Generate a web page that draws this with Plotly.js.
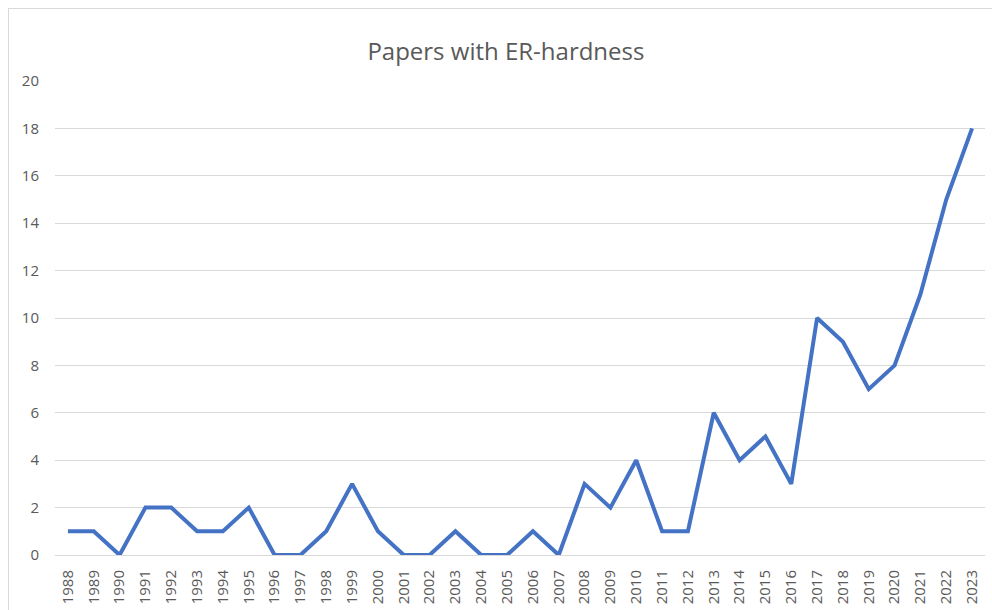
<!DOCTYPE html>
<html>
<head>
<meta charset="utf-8">
<script src="https://cdn.plot.ly/plotly-3.0.1.min.js"></script>
<style>
html,body{margin:0;padding:0;background:#fff;}
#wrap{position:relative;width:992px;height:610px;}
#chart{width:992px;height:610px;}
#frame{position:absolute;left:8px;top:8px;width:990px;height:620px;border:1px solid #d9d9d9;pointer-events:none;}
</style>
</head>
<body>
<div id="wrap"><div id="chart"></div><div id="frame"></div></div>
<script>
const years = ["1988","1989","1990","1991","1992","1993","1994","1995","1996","1997","1998","1999","2000","2001","2002","2003","2004","2005","2006","2007","2008","2009","2010","2011","2012","2013","2014","2015","2016","2017","2018","2019","2020","2021","2022","2023"];
const papers = [1,1,0,2,2,1,1,2,0,0,1,3,1,0,0,1,0,0,1,0,3,2,4,1,1,6,4,5,3,10,9,7,8,11,15,18];

Plotly.newPlot('chart', [{
  x: years, y: papers, type: 'scatter', mode: 'lines',
  line: {color: '#4472C4', width: 4},
  hoverinfo: 'x+y'
}], {
  width: 992, height: 610,
  margin: {l: 55, r: 7, t: 81, b: 55},
  paper_bgcolor: 'rgba(0,0,0,0)', plot_bgcolor: '#fff',
  font: {family: 'Open Sans, Noto Sans, sans-serif', color: '#595959', size: 15},
  title: {text: 'Papers with ER-hardness', x: 0.51, xanchor: 'center', y: 0.916, yanchor: 'middle',
          font: {size: 24, color: '#595959', family: 'Open Sans, Noto Sans, sans-serif'}},
  showlegend: false,
  xaxis: {type: 'category', range: [-0.5, 35.5], tickangle: -90, showgrid: false,
          showline: true, linecolor: '#d9d9d9', linewidth: 1, ticks: '', zeroline: false,
          tickfont: {size: 15, color: '#595959'}, ticklabelstandoff: 8},
  yaxis: {range: [0, 20], dtick: 2, tick0: 0, showgrid: true, gridcolor: '#d9d9d9', gridwidth: 1,
          zeroline: false, showline: false, ticks: '', tickfont: {size: 15, color: '#595959'},
          ticklabelstandoff: 15}
}, {displayModeBar: false});
</script>
</body>
</html>
